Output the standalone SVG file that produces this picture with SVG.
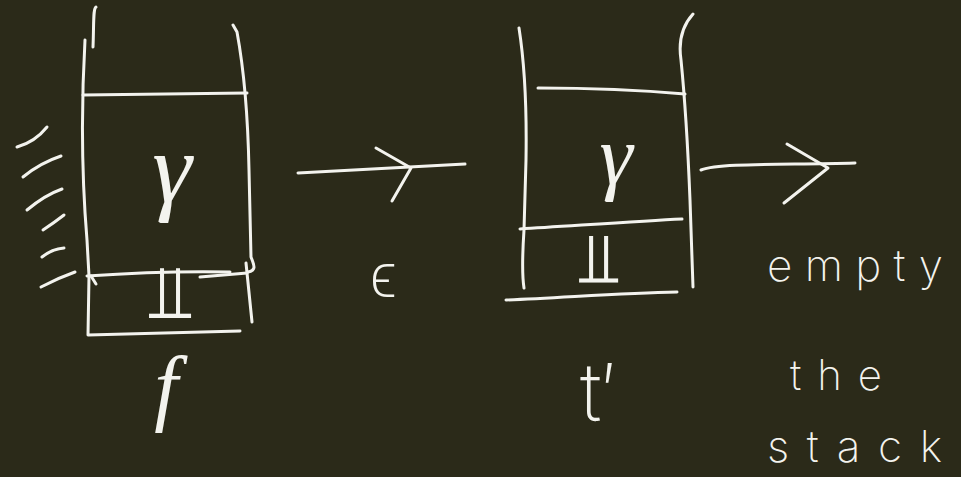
<svg xmlns="http://www.w3.org/2000/svg" width="961" height="477" viewBox="0 0 961 477">
<style>
.s{fill:none;stroke:#f3f3ee;stroke-width:3;stroke-linecap:round;stroke-linejoin:round}
.t{fill:#f3f3ee;font-family:Inter,"DejaVu Sans",sans-serif;font-weight:200;text-anchor:middle}
.g{fill:#f3f3ee;font-family:"Liberation Serif",serif;font-style:italic;text-anchor:middle}
.w{fill:#f3f3ee;font-family:Inter,"DejaVu Sans",sans-serif;font-weight:200}
</style>
<rect width="961" height="477" fill="#2b2a19"/>
<g id="stack-f">
<path class="s" d="M96,7 C93,9 94,22 93,47"/>
<path class="s" d="M85,40 C81,110 82,180 87,240 L89,276 L88,335 L240,331"/>
<path class="s" d="M233,25 L237,32 C244,70 248,120 249,170 L251,257 C254,265 257,270 248,272"/>
<path class="s" d="M246,263 L252,322"/>
<path class="s" d="M83,95 L247,93"/>
<path class="s" d="M87,276 C130,273 180,271 230,272"/>
<path class="s" d="M200,277 L247,273"/>
<path class="s" d="M91,276 L96,284"/>
<path class="s" d="M17,147 Q35,142 47,127"/>
<path class="s" d="M23,177 Q40,163 61,156"/>
<path class="s" d="M27,210 Q45,195 62,189"/>
<path class="s" d="M43,230 Q55,222 64,215"/>
<path class="s" d="M42,257 Q52,249 64,248"/>
<path class="s" d="M41,287 Q58,278 75,272"/>
<text class="g" x="172" y="202" font-size="100">γ</text>
<text class="t" x="170" y="318" font-size="75">⫫</text>
<text class="g" x="166" y="415" font-size="85">f</text>
</g>
<g id="label-eps">
<text class="t" x="384" y="297" font-size="60">ϵ</text>
</g>
<g id="stack-t">
<path class="s" d="M519,28 C524,60 527,100 526,160 L524,230 C522,260 522,275 524,288"/>
<path class="s" d="M693,14 C683,25 678,40 681,60 C684,90 688,150 690,200 L693,287"/>
<path class="s" d="M538,88 C580,88 640,90 685,94"/>
<path class="s" d="M520,229 C570,226 640,221 682,219"/>
<path class="s" d="M506,300 C560,298 620,293 677,292"/>
<text class="g" x="616" y="184" font-size="84">γ</text>
<text class="t" x="598" y="282" font-size="70">⫫</text>
<text class="t" x="598" y="421" font-size="80">t′</text>
</g>
<g id="label-empty">
<text class="w" x="767" y="281" font-size="44" textLength="176" lengthAdjust="spacing">empty</text>
<text class="w" x="790" y="390" font-size="42" textLength="92" lengthAdjust="spacing">the</text>
<text class="w" x="767" y="462" font-size="44" textLength="175" lengthAdjust="spacing">stack</text>
</g>
<g id="connectors">
<path class="s" d="M298,173 L465,164"/>
<path class="s" d="M376,148 L411,168 L392,201"/>
<path class="s" d="M701,170 C720,163 780,165 855,163"/>
<path class="s" d="M787,144 L828,168 L784,203"/>
</g>
</svg>
